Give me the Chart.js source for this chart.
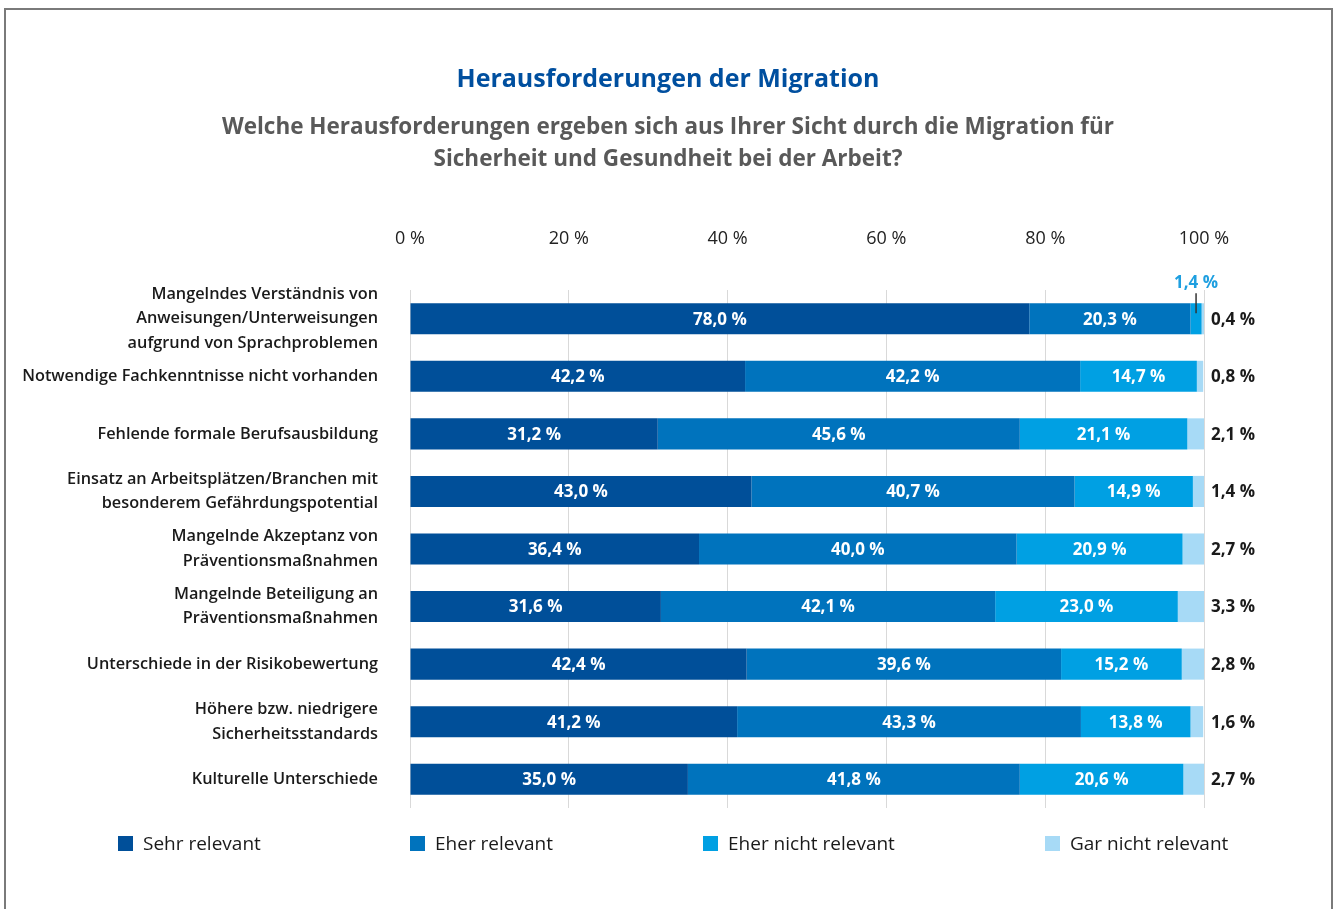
<!DOCTYPE html>
<html lang="de">
<head>
<meta charset="utf-8">
<title>Herausforderungen der Migration</title>
<script src="https://cdn.jsdelivr.net/npm/chart.js@4.4.1/dist/chart.umd.min.js"></script>
<style>
  body { margin: 0; background: #fff; }
  #wrap { position: relative; width: 1336px; height: 909px; overflow: hidden; font-family: "Open Sans", sans-serif; }
  #frame { position: absolute; left: 4px; top: 8px; width: 1325px; height: 940px; border: 2px solid #7a7a7a; }
  #chart { position: absolute; left: 0; top: 0; }
  #title { position: absolute; left: 0; top: 59px; width: 1336px; text-align: center;
           color: #004f9f; font-weight: 700; font-size: 25px; line-height: 36px; }
  #subtitle { position: absolute; left: 0; top: 110px; width: 1336px; text-align: center;
              color: #595959; font-weight: 700; font-size: 22.5px; line-height: 32px; }
  .legend-item { position: absolute; top: 832px; height: 22px; display: flex; align-items: center;
                 font-size: 19px; color: #1a1a1a; white-space: nowrap; }
  .legend-item span.box { display: inline-block; width: 15px; height: 15px; margin-right: 10px; }
</style>
</head>
<body>
<div id="wrap">
  <div id="frame"></div>
  <canvas id="chart" width="1336" height="909"></canvas>
  <div id="title">Herausforderungen der Migration</div>
  <div id="subtitle">Welche Herausforderungen ergeben sich aus Ihrer Sicht durch die Migration für<br>Sicherheit und Gesundheit bei der Arbeit?</div>
  <div id="legend"></div>
</div>
<script>
// Daten
const categories = [
  ['Mangelndes Verständnis von', 'Anweisungen/Unterweisungen', 'aufgrund von Sprachproblemen'],
  'Notwendige Fachkenntnisse nicht vorhanden',
  'Fehlende formale Berufsausbildung',
  ['Einsatz an Arbeitsplätzen/Branchen mit', 'besonderem Gefährdungspotential'],
  ['Mangelnde Akzeptanz von', 'Präventionsmaßnahmen'],
  ['Mangelnde Beteiligung an', 'Präventionsmaßnahmen'],
  'Unterschiede in der Risikobewertung',
  ['Höhere bzw. niedrigere', 'Sicherheitsstandards'],
  'Kulturelle Unterschiede'
];
const seriesNames = ['Sehr relevant', 'Eher relevant', 'Eher nicht relevant', 'Gar nicht relevant'];
const sehrRelevant      = [78.0, 42.2, 31.2, 43.0, 36.4, 31.6, 42.4, 41.2, 35.0];
const eherRelevant      = [20.3, 42.2, 45.6, 40.7, 40.0, 42.1, 39.6, 43.3, 41.8];
const eherNichtRelevant = [1.4, 14.7, 21.1, 14.9, 20.9, 23.0, 15.2, 13.8, 20.6];
const garNichtRelevant  = [0.4, 0.8, 2.1, 1.4, 2.7, 3.3, 2.8, 1.6, 2.7];
const xTicks = [0, 20, 40, 60, 80, 100];

const colors = ['#004f99', '#0073bd', '#00a0e3', '#a7daf6'];
const FONT = '"Open Sans", sans-serif';

function fmt(v) {
  return v.toFixed(1).replace('.', ',') + ' %';
}

// Legende (HTML)
const legendX = [118, 410, 703, 1045];
const legend = document.getElementById('legend');
seriesNames.forEach(function (name, i) {
  const item = document.createElement('div');
  item.className = 'legend-item';
  item.style.left = legendX[i] + 'px';
  item.innerHTML = '<span class="box" style="background:' + colors[i] + '"></span>' + name;
  legend.appendChild(item);
});

// Prozentwerte in / neben den Balken
const segLabels = {
  id: 'segLabels',
  afterDatasetsDraw(chart) {
    const ctx = chart.ctx;
    const area = chart.chartArea;
    ctx.save();
    ctx.font = 'bold 17px ' + FONT;
    ctx.textBaseline = 'middle';
    chart.data.datasets.forEach(function (ds, di) {
      const meta = chart.getDatasetMeta(di);
      meta.data.forEach(function (bar, i) {
        const txt = fmt(ds.data[i]);
        const w = Math.abs(bar.x - bar.base);
        const cx = (bar.x + bar.base) / 2;
        if (di === 3) {
          ctx.fillStyle = '#1a1a1a';
          ctx.textAlign = 'left';
          ctx.fillText(txt, area.right + 7, bar.y + 1);
        } else if (w < 40) {
          // zu schmal: Wert oberhalb mit Hinweislinie
          const top = bar.y - bar.height / 2;
          ctx.fillStyle = '#1e9fe0';
          ctx.textAlign = 'center';
          ctx.fillText(txt, cx, top - 20);
          ctx.strokeStyle = '#333';
          ctx.lineWidth = 1.5;
          ctx.beginPath();
          ctx.moveTo(cx, top - 10);
          ctx.lineTo(cx, top + 10);
          ctx.stroke();
        } else {
          ctx.fillStyle = '#ffffff';
          ctx.textAlign = 'center';
          ctx.fillText(txt, cx, bar.y + 1);
        }
      });
    });
    ctx.restore();
  }
};

const ctx = document.getElementById('chart').getContext('2d');
const seriesData = [sehrRelevant, eherRelevant, eherNichtRelevant, garNichtRelevant];

new Chart(ctx, {
  type: 'bar',
  data: {
    labels: categories,
    datasets: seriesNames.map(function (name, i) {
      return {
        label: name,
        data: seriesData[i],
        backgroundColor: colors[i],
        borderWidth: 0,
        barPercentage: 0.54,
        categoryPercentage: 1.0
      };
    })
  },
  options: {
    indexAxis: 'y',
    responsive: false,
    animation: false,
    layout: { padding: { top: 200, right: 132, bottom: 101, left: 0 } },
    plugins: {
      legend: { display: false },
      tooltip: { enabled: false }
    },
    scales: {
      x: {
        position: 'top',
        stacked: true,
        min: 0,
        max: 100,
        afterBuildTicks: function (scale) {
          scale.ticks = xTicks.map(function (v) { return { value: v }; });
        },
        afterFit: function (scale) { scale.height = 90; },
        grid: { color: '#d9d9d9', lineWidth: 1, drawTicks: false },
        border: { display: false },
        ticks: {
          padding: 40,
          color: '#222',
          font: { family: FONT, size: 18 },
          callback: function (v) { return v + ' %'; }
        }
      },
      y: {
        stacked: true,
        afterFit: function (scale) { scale.width = 410; },
        grid: { display: false, drawTicks: false },
        border: { display: false },
        ticks: {
          autoSkip: false,
          padding: 32,
          color: '#1a1a1a',
          font: { family: FONT, size: 16.3, weight: '600', lineHeight: 1.5 }
        }
      }
    }
  },
  plugins: [segLabels]
});
</script>
</body>
</html>
